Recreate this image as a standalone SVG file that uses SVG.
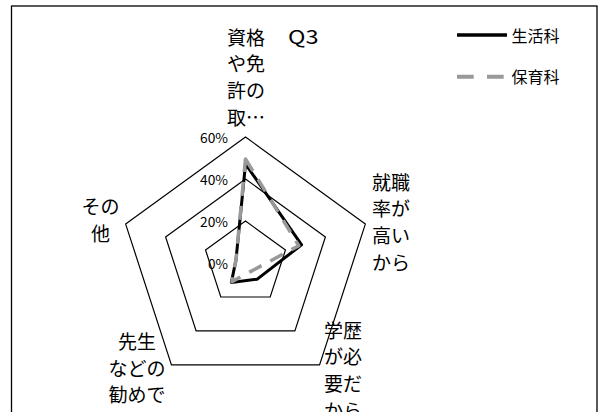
<svg xmlns="http://www.w3.org/2000/svg" width="606" height="412" viewBox="0 0 606 412">
<style>
.t{font-family:"Noto Sans CJK JP","Noto Sans",sans-serif;fill:#000}
.cat{font-size:19px;text-anchor:middle}
.pct{font-size:13px;text-anchor:end}
.leg{font-size:16px}
.ring{fill:none;stroke:#000;stroke-width:1.2;stroke-linejoin:miter}
.s1{fill:none;stroke:#000;stroke-width:3;stroke-linejoin:round}
.s2{fill:none;stroke:#999;stroke-width:3.5;stroke-dasharray:14 10;stroke-linejoin:round}
</style>
<rect x="0" y="0" width="606" height="412" fill="#fff"/>
<rect x="11.5" y="6" width="585.5" height="420" fill="none" stroke="#000" stroke-width="1.3"/>
<g id="grid">
<polygon class="ring" points="245.5,137 365.34,224.07 319.56,364.93 171.44,364.93 125.66,224.07"/>
<polygon class="ring" points="245.5,179 325.39,237.04 294.88,330.96 196.12,330.96 165.61,237.04"/>
<polygon class="ring" points="245.5,221 285.45,250.02 270.19,296.98 220.81,296.98 205.55,250.02"/>
</g>
<g id="axis-labels" class="t pct">
<text x="228" y="142.5" textLength="28" lengthAdjust="spacingAndGlyphs">60%</text>
<text x="228" y="184.5" textLength="28" lengthAdjust="spacingAndGlyphs">40%</text>
<text x="228" y="227" textLength="28" lengthAdjust="spacingAndGlyphs">20%</text>
<text x="228" y="269" textLength="20" lengthAdjust="spacingAndGlyphs">0%</text>
</g>
<g id="connectors">
<polygon id="series-seikatsu" class="s1" points="245.5,164 301.61,244.77 257.26,279.18 231.39,282.42 235.99,259.91"/>
<polygon id="series-hoiku" class="s2" points="245.5,159 298.76,245.7 251.38,271.09 231.98,281.61 235.99,259.91"/>
</g>
<g id="title">
<text class="t" x="288" y="44" font-size="19" textLength="30.5" lengthAdjust="spacingAndGlyphs">Q3</text>
</g>
<g id="cat-shikaku" class="t cat">
<text x="246" y="44.5">資格</text>
<text x="246" y="71.2">や免</text>
<text x="246" y="97.9">許の</text>
<text x="246" y="124.6">取…</text>
</g>
<g id="cat-shushoku" class="t cat">
<text x="391" y="189.5">就職</text>
<text x="391" y="216.2">率が</text>
<text x="391" y="242.9">高い</text>
<text x="391" y="269.6">から</text>
</g>
<g id="cat-gakureki" class="t cat">
<text x="343" y="337.7">学歴</text>
<text x="343" y="364.4">が必</text>
<text x="343" y="391.1">要だ</text>
<text x="343" y="417.8">から</text>
</g>
<g id="cat-sensei" class="t cat">
<text x="137" y="349">先生</text>
<text x="137" y="375.7">などの</text>
<text x="137" y="402.4">勧めで</text>
</g>
<g id="cat-sonota" class="t cat">
<text x="100.5" y="214.3">その</text>
<text x="100.5" y="241">他</text>
</g>
<g id="legend">
<line x1="457" y1="35" x2="507" y2="35" stroke="#000" stroke-width="3.5"/>
<text class="t leg" x="511.5" y="41.5">生活科</text>
<line x1="457" y1="76.7" x2="504" y2="76.7" stroke="#999" stroke-width="4" stroke-dasharray="16.7 13.3"/>
<text class="t leg" x="511.5" y="82.5">保育科</text>
</g>
</svg>
